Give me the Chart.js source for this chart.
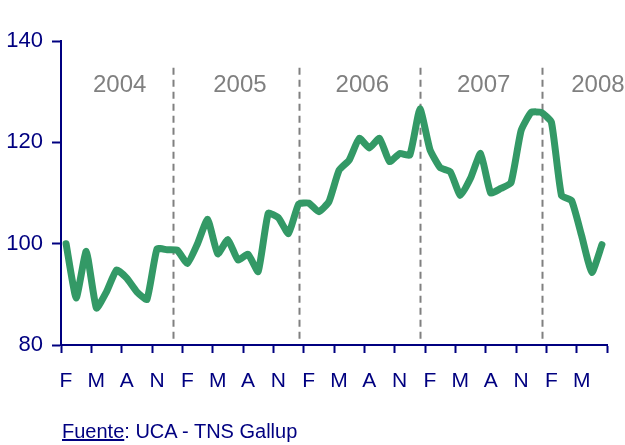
<!DOCTYPE html>
<html lang="es">

<head>
  <meta charset="UTF-8">
  <title>Indice mensual 2004-2008</title>
  <script src="https://cdn.jsdelivr.net/npm/chart.js"></script>
  <style>
    body { margin: 0; background: #fff; }
    #wrap { position: relative; width: 625px; height: 445px; }
    #source {
      position: absolute; left: 62px; top: 421px;
      font: 20px "Liberation Sans", Arial, sans-serif; line-height: 20px;
      color: #000080; white-space: nowrap;
    }
  </style>
</head>

<body>
  <div id="wrap">
    <canvas id="indexChart" width="625" height="445"></canvas>
    <div id="source"><u>Fuente</u>: UCA - TNS Gallup</div>
  </div>

  <script>
    // monthly values, Feb 2004 .. Jul 2008
    const values = [
      100, 89.3, 98.5, 87.3, 90.5, 94.8, 93.2, 90.5, 89, 99, 98.8,
      98.7, 96.1, 100, 104.8, 98, 100.8, 96.8, 97.9, 94.5, 106, 105.1, 102,
      107.8, 108, 106.3, 108.3, 114.5, 116.5, 120.8, 118.9, 120.8, 116.2, 117.8, 117.5,
      126.6, 118.5, 115, 114.2, 109.5, 112.9, 117.8, 110, 110.9, 112, 122.3, 125.9,
      125.9, 124, 109.5, 108.5, 101.5, 94.3, 99.8
    ];
    // one label per tick, every 3 months
    const tickLabels = ['F', 'M', 'A', 'N', 'F', 'M', 'A', 'N', 'F', 'M', 'A', 'N',
      'F', 'M', 'A', 'N', 'F', 'M', ''];
    const yTicks = [80, 100, 120, 140];
    const years = ['2004', '2005', '2006', '2007', '2008'];

    // year separators / year labels (in month units on the x scale)
    const yearLines = [11.1, 23.5, 35.5, 47.6];
    const yearLabelX = [5.8, 17.7, 29.8, 41.8, 53.1];

    const NAVY = '#000080';
    const FONT = '"Liberation Sans", Arial, sans-serif';

    const points = values.map((v, i) => ({ x: i + 0.5, y: v }));

    const yearPlugin = {
      id: 'years',
      beforeDatasetsDraw(chart) {
        const ctx = chart.ctx;
        const xs = chart.scales.x, ys = chart.scales.y;
        ctx.save();
        ctx.strokeStyle = '#808080';
        ctx.lineWidth = 2;
        ctx.setLineDash([7, 5]);
        yearLines.forEach(v => {
          const px = Math.round(xs.getPixelForValue(v)) + 0.5;
          ctx.beginPath();
          ctx.moveTo(px, ys.getPixelForValue(134.7));
          ctx.lineTo(px, ys.getPixelForValue(80) - 2);
          ctx.stroke();
        });
        ctx.setLineDash([]);
        ctx.fillStyle = '#808080';
        ctx.font = '24px ' + FONT;
        ctx.textAlign = 'center';
        ctx.textBaseline = 'middle';
        years.forEach((y, i) => {
          ctx.fillText(y, xs.getPixelForValue(yearLabelX[i]), ys.getPixelForValue(131.3));
        });
        ctx.restore();
      }
    };

    new Chart(document.getElementById('indexChart'), {
      type: 'line',
      data: {
        datasets: [{
          data: points,
          borderColor: '#339966',
          borderWidth: 7,
          borderJoinStyle: 'round',
          borderCapStyle: 'round',
          pointRadius: 0,
          tension: 0.15,
          clip: false
        }]
      },
      options: {
        responsive: false,
        animation: false,
        events: [],
        layout: { autoPadding: false, padding: { top: 41, right: 18, left: 0, bottom: 0 } },
        plugins: { legend: { display: false }, tooltip: { enabled: false } },
        scales: {
          x: {
            type: 'linear',
            min: 0,
            max: 54,
            afterFit: s => { s.height = 100; },
            afterBuildTicks: s => { s.ticks = tickLabels.map((t, i) => ({ value: i * 3 })); },
            border: { color: NAVY, width: 2 },
            grid: { drawOnChartArea: false, tickLength: 8, tickWidth: 2, tickColor: NAVY },
            ticks: {
              color: NAVY,
              font: { family: FONT, size: 21 },
              padding: 16,
              labelOffset: 5,
              maxRotation: 0,
              autoSkip: false,
              callback: (v, i) => tickLabels[i]
            }
          },
          y: {
            min: 80,
            max: 140,
            afterFit: s => { s.width = 61; },
            afterBuildTicks: s => { s.ticks = yTicks.map(v => ({ value: v })); },
            border: { color: NAVY, width: 2 },
            grid: { drawOnChartArea: false, tickLength: 9, tickWidth: 2, tickColor: NAVY },
            ticks: {
              color: NAVY,
              font: { family: FONT, size: 22 },
              padding: 9
            }
          }
        }
      },
      plugins: [yearPlugin]
    });
  </script>
</body>

</html>
